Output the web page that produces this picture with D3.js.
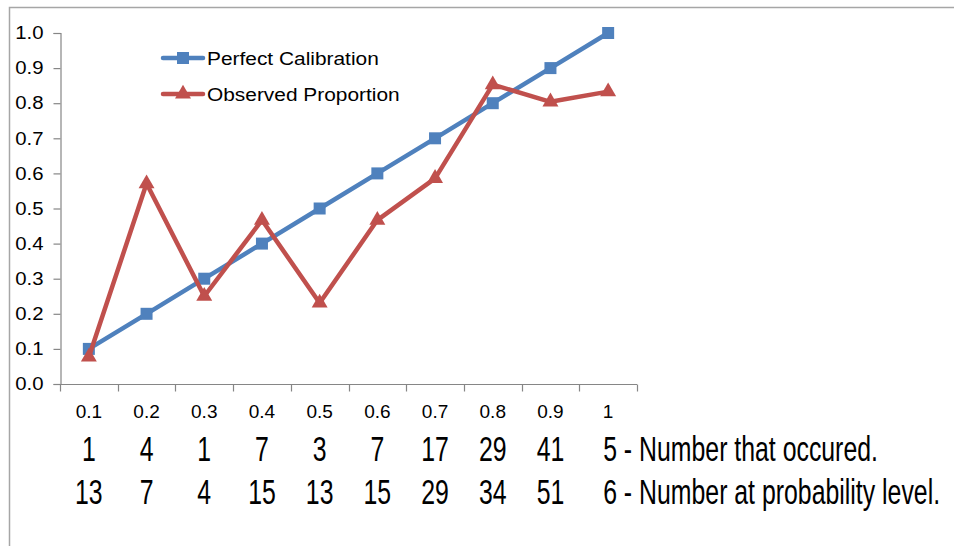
<!DOCTYPE html>
<html lang="en">
<head>
<meta charset="UTF-8">
<title>Calibration chart</title>
<style>
  body { margin: 0; background: #fff; }
  text { font-family: "Liberation Sans", Arial, sans-serif; fill: #000; }
</style>
</head>
<body>
<div id="chart"></div>
<script src="https://d3js.org/d3.v7.min.js"></script>
<script>
  // categories (probability levels)
  const levels = ["0.1", "0.2", "0.3", "0.4", "0.5", "0.6", "0.7", "0.8", "0.9", "1"];
  // series
  const perfect = [0.1, 0.2, 0.3, 0.4, 0.5, 0.6, 0.7, 0.8, 0.9, 1.0];
  const observed = [0.077, 0.571, 0.25, 0.467, 0.231, 0.467, 0.586, 0.853, 0.804, 0.833];
  // counts under the axis
  const occurred = [1, 4, 1, 7, 3, 7, 17, 29, 41, 5];
  const atLevel = [13, 7, 4, 15, 13, 15, 29, 34, 51, 6];
  const yTicks = [0, 0.1, 0.2, 0.3, 0.4, 0.5, 0.6, 0.7, 0.8, 0.9, 1.0];

  const W = 954, H = 546;
  const blue = "#4f81bd", red = "#c0504d", axisGray = "#868686";

  const svg = d3.select("#chart").append("svg")
    .attr("width", W)
    .attr("height", H);

  // outer frame (left and top edges visible)
  svg.append("path")
    .attr("d", `M9.5,${H} V7.5 H${W}`)
    .attr("fill", "none")
    .attr("stroke", "#a6a6a6")
    .attr("stroke-width", 1.5);

  const x = d3.scaleBand().domain(levels).range([60, 637]).padding(0);
  const y = d3.scaleLinear().domain([0, 1]).range([384, 33]);
  const cx = d => x(d) + x.bandwidth() / 2;

  // y axis (labels a little wide, as in the picture)
  const stretch = 1.13;
  const yAxis = svg.append("g")
    .attr("transform", "translate(60.5,0)")
    .call(d3.axisLeft(y).tickValues(yTicks).tickFormat(d3.format(".1f")).tickSize(7));
  yAxis.select(".domain").attr("stroke", axisGray).attr("stroke-width", 1.2);
  yAxis.selectAll(".tick line").attr("stroke", axisGray).attr("stroke-width", 1.2);
  yAxis.selectAll(".tick text")
    .attr("x", -17 / stretch)
    .attr("transform", `scale(${stretch},1)`)
    .style("font-size", "18px")
    .style("font-family", "'Liberation Sans', Arial, sans-serif");

  // x axis: line, ticks between categories, labels at centers
  const xAxis = svg.append("g").attr("transform", "translate(0,384.5)");
  xAxis.append("line")
    .attr("x1", x.range()[0]).attr("x2", x.range()[1])
    .attr("stroke", axisGray).attr("stroke-width", 1.2);
  const edges = levels.map(d => x(d)).concat([x.range()[1]]);
  xAxis.selectAll(".xtick").data(edges).enter().append("line")
    .attr("x1", d => Math.round(d) + 0.5).attr("x2", d => Math.round(d) + 0.5)
    .attr("y1", 0).attr("y2", 7)
    .attr("stroke", axisGray).attr("stroke-width", 1.2);
  xAxis.selectAll(".xlab").data(levels).enter().append("text")
    .attr("x", d => cx(d)).attr("y", 33)
    .attr("text-anchor", "middle")
    .style("font-size", "19px")
    .text(d => d);

  // series lines + markers
  const line = d3.line().x((d, i) => cx(levels[i])).y(d => y(d));

  svg.append("path").datum(perfect)
    .attr("d", line).attr("fill", "none")
    .attr("stroke", blue).attr("stroke-width", 4.5).attr("stroke-linejoin", "round");
  svg.selectAll(".sq").data(perfect).enter().append("rect")
    .attr("x", (d, i) => cx(levels[i]) - 6).attr("y", d => y(d) - 6)
    .attr("width", 12).attr("height", 12).attr("fill", blue);

  svg.append("path").datum(observed)
    .attr("d", line).attr("fill", "none")
    .attr("stroke", red).attr("stroke-width", 4.5).attr("stroke-linejoin", "round");
  const tri = d3.symbol().type(d3.symbolTriangle).size(110);
  svg.selectAll(".tri").data(observed).enter().append("path")
    .attr("d", tri)
    .attr("transform", (d, i) => `translate(${cx(levels[i])},${y(d)})`)
    .attr("fill", red);

  // legend
  const legend = [
    { name: "Perfect Calibration", color: blue, marker: "square", y: 58 },
    { name: "Observed Proportion", color: red, marker: "triangle", y: 94 }
  ];
  legend.forEach(l => {
    svg.append("line")
      .attr("x1", 163).attr("x2", 203).attr("y1", l.y).attr("y2", l.y)
      .attr("stroke", l.color).attr("stroke-width", 4.5).attr("stroke-linecap", "round");
    if (l.marker === "square") {
      svg.append("rect").attr("x", 177).attr("y", l.y - 6).attr("width", 12).attr("height", 12).attr("fill", l.color);
    } else {
      svg.append("path").attr("d", tri).attr("transform", `translate(183,${l.y})`).attr("fill", l.color);
    }
    svg.append("text")
      .attr("transform", `translate(207,${l.y + 6.5}) scale(${stretch},1)`)
      .style("font-size", "18.5px")
      .text(l.name);
  });

  // count rows beneath the axis (condensed large text)
  const rows = [
    { values: occurred, label: "Number that occured.", y: 461 },
    { values: atLevel, label: "Number at probability level.", y: 504 }
  ];
  const sx = 0.71;
  rows.forEach(r => {
    r.values.forEach((v, i) => {
      const last = i === levels.length - 1;
      svg.append("text")
        .attr("transform", `translate(${last ? cx(levels[i]) - 5 : cx(levels[i])},${r.y}) scale(${sx},1)`)
        .attr("text-anchor", last ? "start" : "middle")
        .style("font-size", "35px")
        .text(last ? `${v} - ${r.label}` : v);
    });
  });
</script>
</body>
</html>
